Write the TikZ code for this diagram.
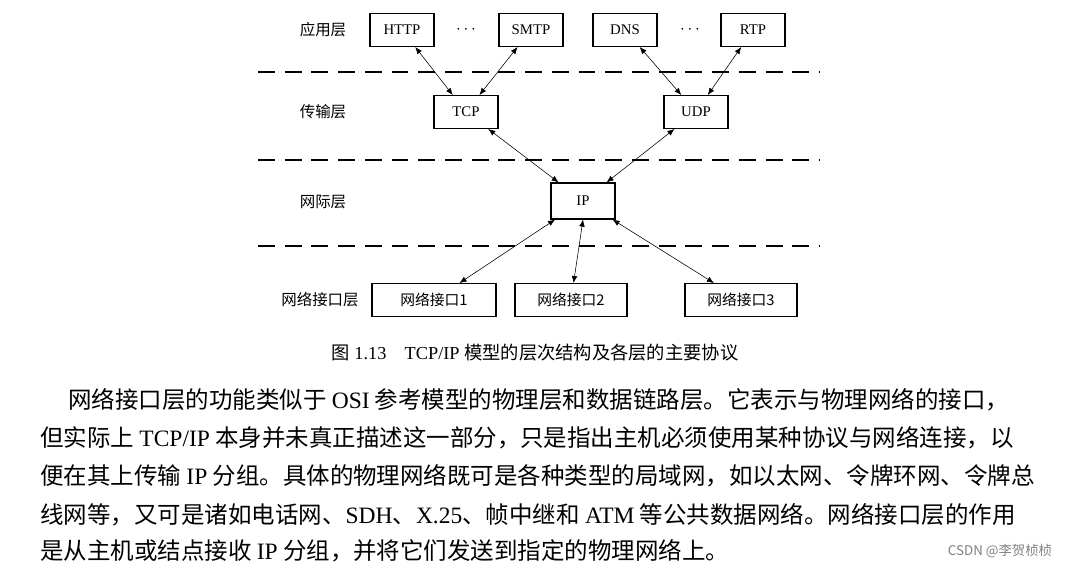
\documentclass[tikz,border=0pt]{standalone}
\usepackage{fontspec}
\setmainfont{Liberation Serif}
\newfontfamily\cjk{Noto Sans CJK SC}
\usetikzlibrary{arrows.meta}
\tikzset{
    proto/.style={rectangle, draw, thick, fill=white, minimum width=1.6cm,
        minimum height=0.82cm, font=\fontsize{10.5}{12}\selectfont},
    layer/.style={font=\cjk\fontsize{11}{12}\selectfont},
    sep/.style={draw, thick, dash pattern=on 12pt off 7pt},
    line/.style={draw, {Latex[length=5pt,width=4pt]}-{Latex[length=5pt,width=4pt]}},
    body/.style={anchor=west, inner sep=0pt, font=\cjk\fontsize{16.7}{20}\selectfont}
}
\begin{document}
\begin{tikzpicture}[x=0.025cm, y=-0.025cm]
    \useasboundingbox (0,0) rectangle (1068,572);

    % layer names
    \node[layer] (app) at (323,30) {应用层};
    \node[layer] (trans) at (323,112) {传输层};
    \node[layer] (net) at (323,202) {网际层};
    \node[layer] (link) at (320,300) {网络接口层};

    % separators
    \coordinate (s1a) at (258,72);  \coordinate (s1b) at (820,72);
    \coordinate (s2a) at (258,160); \coordinate (s2b) at (820,160);
    \coordinate (s3a) at (258,246); \coordinate (s3b) at (820,246);
    \path[sep] (s1a) -- (s1b);
    \path[sep] (s2a) -- (s2b);
    \path[sep] (s3a) -- (s3b);

    % protocols
    \node[proto] (http) at (402,30) {HTTP};
    \node[font=\bfseries\large] (dots1) at (466,30) {$\cdots$};
    \node[proto] (smtp) at (531,30) {SMTP};
    \node[proto] (dns) at (625,30) {DNS};
    \node[font=\bfseries\large] (dots2) at (690,30) {$\cdots$};
    \node[proto] (rtp) at (753,30) {RTP};
    \node[proto] (tcp) at (466,112) {TCP};
    \node[proto] (udp) at (696,112) {UDP};
    \node[proto, minimum height=0.9cm] (ip) at (583,201) {IP};
    \node[proto, minimum width=3.1cm, font=\cjk\fontsize{10.5}{12}\selectfont] (if1) at (434,300) {网络接口1};
    \node[proto, minimum width=2.8cm, font=\cjk\fontsize{10.5}{12}\selectfont] (if2) at (571,300) {网络接口2};
    \node[proto, minimum width=2.8cm, font=\cjk\fontsize{10.5}{12}\selectfont] (if3) at (741,300) {网络接口3};

    \path[line] (http) -- (tcp);
    \path[line] (smtp) -- (tcp);
    \path[line] (dns) -- (udp);
    \path[line] (rtp) -- (udp);
    \path[line] (tcp) -- (ip);
    \path[line] (udp) -- (ip);
    \path[line] (ip) -- (if1);
    \path[line] (ip.south) -- (if2);
    \path[line] (ip) -- (if3);

    % caption
    \node[font=\fontsize{13}{15}\selectfont] (cap) at (535,353)
        {{\cjk 图} 1.13\quad TCP/IP {\cjk 模型的层次结构及各层的主要协议}};

    % text
    \node[body] (l1) at (68,400) {网络接口层的功能类似于 {\rmfamily OSI} 参考模型的物理层和数据链路层。它表示与物理网络的接口，};
    \node[body] (l2) at (40,438) {但实际上 {\rmfamily TCP/IP} 本身并未真正描述这一部分，只是指出主机必须使用某种协议与网络连接，以};
    \node[body] (l3) at (40,476) {便在其上传输 {\rmfamily IP} 分组。具体的物理网络既可是各种类型的局域网，如以太网、令牌环网、令牌总};
    \node[body] (l4) at (40,515) {线网等，又可是诸如电话网、{\rmfamily SDH}、{\rmfamily X.25}、帧中继和 {\rmfamily ATM} 等公共数据网络。网络接口层的作用};
    \node[body] (l5) at (40,551) {是从主机或结点接收 {\rmfamily IP} 分组，并将它们发送到指定的物理网络上。};

    \node[font=\cjk\fontsize{9.5}{11}\selectfont, text=gray] (mark) at (1000,551) {CSDN @李贺桢桢};
\end{tikzpicture}
\end{document}
